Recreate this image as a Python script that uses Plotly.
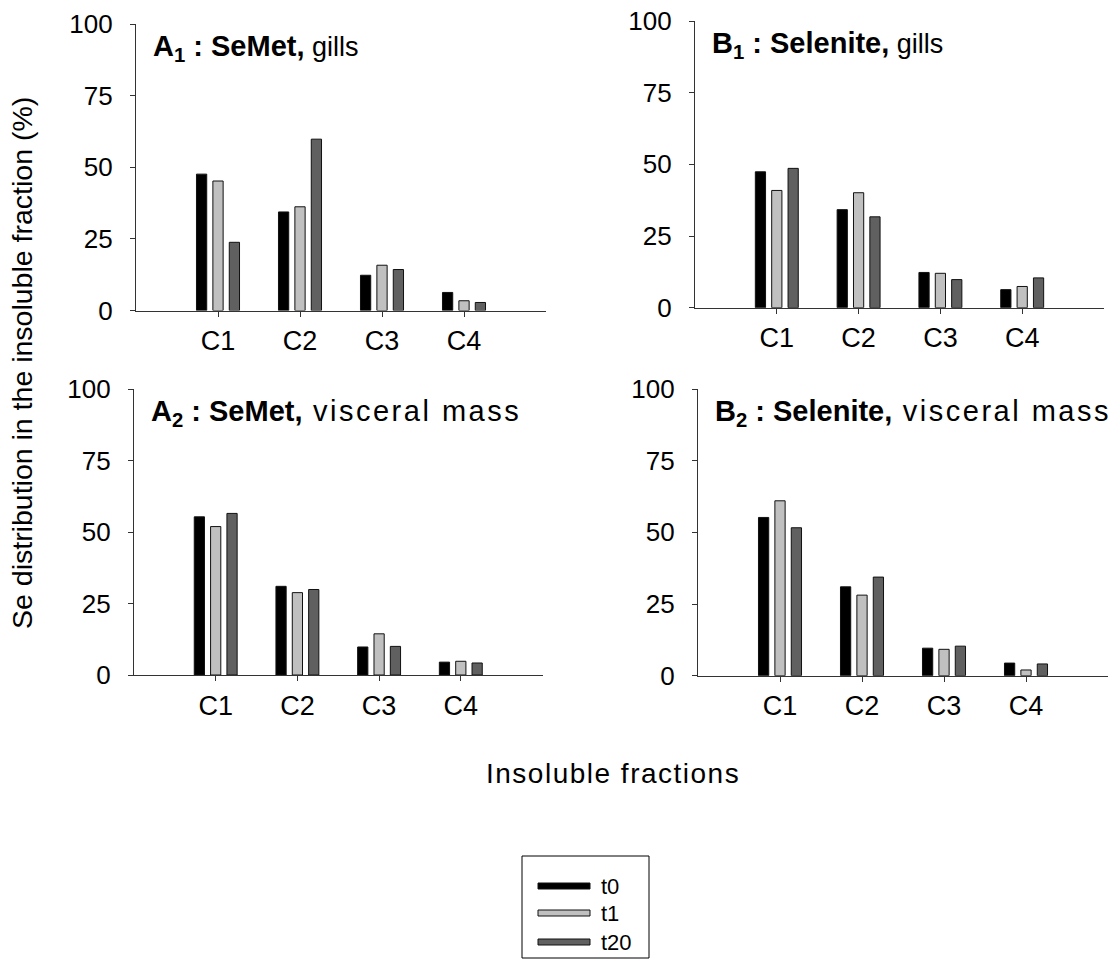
import plotly.graph_objects as go

W, H = 1120, 968

categories = ["C1", "C2", "C3", "C4"]
times = ["t0", "t1", "t20"]
bar_colors = {"t0": "#000000", "t1": "#c0c0c0", "t20": "#606060"}

# Se distribution (%) per insoluble fraction, one list per sampling time
a1_gills = {"t0": [47.6, 34.4, 12.3, 6.3], "t1": [45.2, 36.2, 15.8, 3.4], "t20": [23.8, 59.8, 14.3, 2.8]}
b1_gills = {"t0": [47.4, 34.2, 12.3, 6.3], "t1": [40.9, 40.1, 12.0, 7.4], "t20": [48.6, 31.7, 9.8, 10.4]}
a2_visceral = {"t0": [55.3, 31.0, 9.8, 4.5], "t1": [51.9, 28.8, 14.4, 4.8], "t20": [56.5, 29.9, 10.0, 4.2]}
b2_visceral = {"t0": [55.2, 31.0, 9.6, 4.4], "t1": [61.0, 28.1, 9.2, 2.0], "t20": [51.6, 34.4, 10.3, 4.1]}

y_ticks = [0, 25, 50, 75, 100]

FONT = "Liberation Sans, Arial, sans-serif"

# panel geometry in pixels: (x_left, x_right, y_top, y_bottom), plus tissue text size/spacing
panels = [
    ("A", 1, "SeMet,", "gills", 27, 0, a1_gills, (136, 546, 24, 310.5)),
    ("B", 1, "Selenite,", "gills", 27, 0, b1_gills, (695, 1104, 21, 307.7)),
    ("A", 2, "SeMet,", "visceral mass", 29, 2.5, a2_visceral, (134, 542.5, 389, 675)),
    ("B", 2, "Selenite,", "visceral mass", 29, 2.5, b2_visceral, (698, 1108, 389, 675.7)),
]

fig = go.Figure()
annotations = []
shapes = []

for i, (letter, idx, compound, tissue, tsize, spacing, data, (x0, x1, yt, yb)) in enumerate(panels):
    n = "" if i == 0 else str(i + 1)
    xa, ya = "x" + n, "y" + n
    for t in times:
        fig.add_trace(go.Bar(
            x=categories, y=data[t], name=t, xaxis=xa, yaxis=ya,
            marker=dict(color=bar_colors[t], line=dict(color="#111111", width=1)),
            showlegend=False,
        ))
    axis_common = dict(
        showline=True, linecolor="#333333", linewidth=1.2,
        ticks="outside", ticklen=5, tickcolor="#333333", tickwidth=1.2,
        showgrid=False, zeroline=False, automargin=False,
    )
    fig.layout["xaxis" + n] = dict(
        domain=[x0 / W, x1 / W], anchor=ya, type="category",
        range=[-1, 4], ticklabelstandoff=1,
        tickfont=dict(family=FONT, size=27, color="#000000"), **axis_common,
    )
    fig.layout["yaxis" + n] = dict(
        domain=[1 - yb / H, 1 - yt / H], anchor=xa, range=[0, 100],
        tickvals=y_ticks, ticktext=[str(v) for v in y_ticks],
        ticklabelstandoff=12,
        tickfont=dict(family=FONT, size=26, color="#000000"), **axis_common,
    )
    annotations.append(dict(
        x=(x0 + 15) / W, y=1 - (yt + 24) / H, xref="paper", yref="paper",
        xanchor="left", yanchor="middle", showarrow=False,
        text=(f"<b>{letter}<sub>{idx}</sub> : {compound}</b>"
              f"<span style='font-size:{tsize}px;letter-spacing:{spacing}px'> {tissue}</span>"),
        font=dict(family=FONT, size=29, color="#000000"),
    ))

annotations.append(dict(
    x=22 / W, y=1 - 363 / H, xref="paper", yref="paper", textangle=-90,
    xanchor="center", yanchor="middle", showarrow=False,
    text="Se distribution in the insoluble fraction (%)",
    font=dict(family=FONT, size=28.5, color="#000000"),
))
annotations.append(dict(
    x=613 / W, y=1 - 773 / H, xref="paper", yref="paper",
    xanchor="center", yanchor="middle", showarrow=False,
    text="<span style='letter-spacing:1.5px'>Insoluble fractions</span>",
    font=dict(family=FONT, size=28, color="#000000"),
))

# legend box with wide bar swatches
shapes.append(dict(type="rect", xref="paper", yref="paper",
                   x0=522 / W, x1=649 / W, y0=1 - 958 / H, y1=1 - 856 / H,
                   line=dict(color="#000000", width=1), fillcolor="white"))
for t, yc in zip(times, [886, 913, 942]):
    shapes.append(dict(type="rect", xref="paper", yref="paper",
                       x0=538 / W, x1=590 / W, y0=1 - (yc + 3) / H, y1=1 - (yc - 3) / H,
                       line=dict(color="#111111", width=1), fillcolor=bar_colors[t]))
    annotations.append(dict(
        x=599 / W, y=1 - yc / H, xref="paper", yref="paper",
        xanchor="left", yanchor="middle", showarrow=False, text=t,
        font=dict(family=FONT, size=22, color="#000000"),
    ))

fig.update_layout(
    width=W, height=H, margin=dict(l=0, r=0, t=0, b=0),
    paper_bgcolor="white", plot_bgcolor="white",
    barmode="group", bargap=0.4, bargroupgap=0.375,
    annotations=annotations, shapes=shapes, showlegend=False,
)

fig.write_html("out.html")
